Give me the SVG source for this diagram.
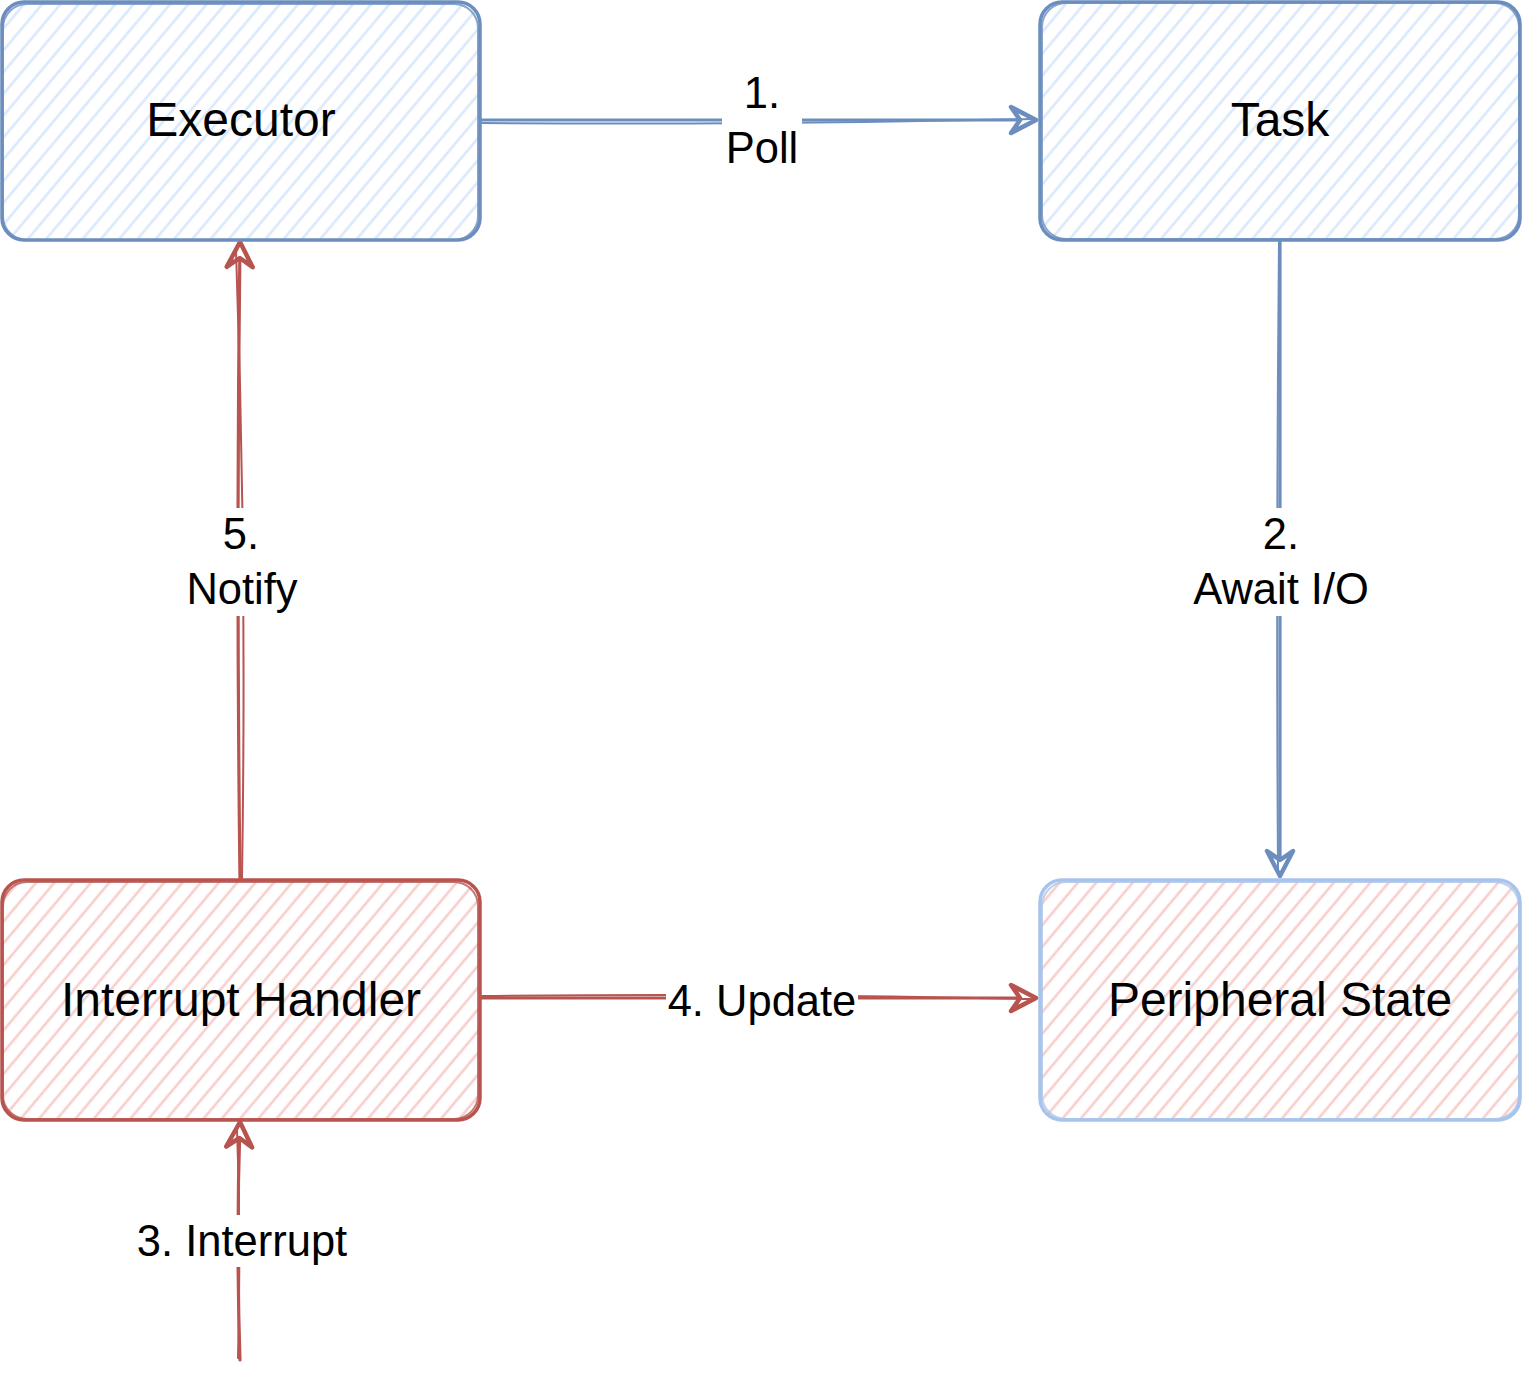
<svg xmlns="http://www.w3.org/2000/svg" width="1524" height="1396" viewBox="0 0 1524 1396">
<style>
.lbl{font-family:"Liberation Sans",Arial,sans-serif;font-size:48px;fill:#000;text-anchor:middle}
.elbl{font-family:"Liberation Sans",Arial,sans-serif;font-size:43.5px;fill:#000;text-anchor:middle}
.blue{stroke:#6c8ebf}
.red{stroke:#b85450}
.lblue{stroke:#a9c4eb}
.box{stroke-width:3.5;stroke-linejoin:round}
.box2{fill:none;stroke-width:2;opacity:0.8}
.edge{fill:none;stroke-width:3.2;stroke-linecap:round}
.edge2{fill:none;stroke-width:2;stroke-linecap:round}
.bg{fill:#fff}
</style>
<defs>
<pattern id="hb" patternUnits="userSpaceOnUse" width="14" height="14" patternTransform="rotate(40)">
<rect width="14" height="14" fill="#fff"/>
<line x1="7" y1="0" x2="7" y2="14" stroke="#dae8fc" stroke-width="2.6"/>
</pattern>
<pattern id="hr" patternUnits="userSpaceOnUse" width="14" height="14" patternTransform="rotate(40)">
<rect width="14" height="14" fill="#fff"/>
<line x1="7" y1="0" x2="7" y2="14" stroke="#f8cecc" stroke-width="2.6"/>
</pattern>
<marker id="ab" markerUnits="userSpaceOnUse" markerWidth="40" markerHeight="40" refX="30" refY="20" orient="auto">
<path d="M5 7 L30 20 L5 33 L14 20 Z" fill="#fff" stroke="#6c8ebf" stroke-width="4.5" stroke-linejoin="round"/>
</marker>
<marker id="ar" markerUnits="userSpaceOnUse" markerWidth="40" markerHeight="40" refX="30" refY="20" orient="auto">
<path d="M5 7 L30 20 L5 33 L14 20 Z" fill="#fff" stroke="#b85450" stroke-width="4.5" stroke-linejoin="round"/>
</marker>
</defs>

<g id="connectors">
<g id="e1">
<path class="edge blue" d="M480 120 L1036 120" marker-end="url(#ab)"/>
<path class="edge2 blue" d="M482 123 Q760 125 1030 119"/>
<rect class="bg" x="722" y="72" width="80" height="104"/>
<text class="elbl" x="762" y="108">1.</text>
<text class="elbl" x="762" y="163">Poll</text>
</g>
<g id="e2">
<path class="edge blue" d="M1280 240 L1280 876" marker-end="url(#ab)"/>
<path class="edge2 blue" d="M1279 242 Q1276 560 1278 870"/>
<rect class="bg" x="1192" y="508" width="178" height="108"/>
<text class="elbl" x="1281" y="549">2.</text>
<text class="elbl" x="1281" y="604">Await I/O</text>
</g>
<g id="e3">
<path class="edge red" d="M240 1360 Q236 1240 240 1122" marker-end="url(#ar)"/>
<path class="edge2 red" d="M238 1358 Q241 1240 237 1130"/>
<rect class="bg" x="135" y="1215" width="215" height="52"/>
<text class="elbl" x="242" y="1256">3. Interrupt</text>
</g>
<g id="e4">
<path class="edge red" d="M480 998 L1036 998" marker-end="url(#ar)"/>
<path class="edge2 red" d="M482 996 Q760 993 1030 999"/>
<rect class="bg" x="666" y="975" width="192" height="52"/>
<text class="elbl" x="762" y="1016">4. Update</text>
</g>
<g id="e5">
<path class="edge red" d="M240 880 Q236 560 240 242" marker-end="url(#ar)"/>
<path class="edge2 red" d="M242 878 Q247 560 236 250"/>
<rect class="bg" x="182" y="508" width="120" height="108"/>
<text class="elbl" x="241" y="549">5.</text>
<text class="elbl" x="242" y="604">Notify</text>
</g>
</g>

<g id="executor">
<rect class="box blue" x="2" y="2" width="478" height="238" rx="22" fill="url(#hb)"/>
<rect class="box2 blue" x="3" y="4" width="475" height="236" rx="24"/>
<text class="lbl" x="241" y="136">Executor</text>
</g>
<g id="task">
<rect class="box blue" x="1040" y="2" width="480" height="238" rx="22" fill="url(#hb)"/>
<rect class="box2 blue" x="1042" y="3" width="477" height="236" rx="24"/>
<text class="lbl" x="1280" y="136">Task</text>
</g>
<g id="interrupt-handler">
<rect class="box red" x="2" y="880" width="478" height="240" rx="22" fill="url(#hr)"/>
<rect class="box2 red" x="3" y="882" width="475" height="237" rx="24"/>
<text class="lbl" x="241" y="1016">Interrupt Handler</text>
</g>
<g id="peripheral-state">
<rect class="box lblue" x="1040" y="880" width="480" height="240" rx="22" fill="url(#hr)"/>
<rect class="box2 lblue" x="1042" y="882" width="477" height="237" rx="24"/>
<text class="lbl" x="1280" y="1016">Peripheral State</text>
</g>
</svg>
